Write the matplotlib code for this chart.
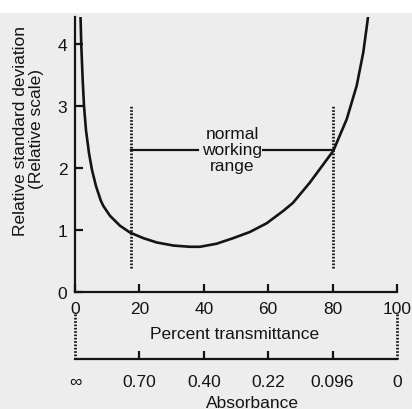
import matplotlib
matplotlib.use("Agg")
import matplotlib.pyplot as plt
from matplotlib.patches import Rectangle

plt.rcParams["font.family"] = ["Liberation Sans", "DejaVu Sans"]

# Relative standard deviation of concentration vs. percent transmittance
transmittance = [1.68, 1.77, 1.96, 2.39, 2.80, 3.42, 4.35, 5.28, 6.52, 7.98, 8.79,
                 10.87, 13.98, 17.08, 21.21, 25.37, 30.53, 35.71, 38.82, 44.0,
                 49.16, 54.35, 59.53, 64.69, 67.70, 72.98, 80.22, 84.38, 87.48,
                 89.53, 90.78, 91.09]
rel_std_dev = [4.50, 4.34, 3.97, 3.42, 3.00, 2.61, 2.24, 1.97, 1.71, 1.48, 1.39,
               1.23, 1.07, 0.96, 0.87, 0.80, 0.75, 0.73, 0.73, 0.78,
               0.87, 0.97, 1.11, 1.31, 1.44, 1.77, 2.28, 2.79, 3.33,
               3.87, 4.35, 4.48]

# Normal working range (percent transmittance) and its marker level
range_low, range_high = 17.5, 80.0
range_level = 2.3
range_bar_bottom, range_bar_top = 0.38, 3.0
range_gap = (38.3, 58.4)
range_label = "normal\nworking\nrange"
range_label_x = 48.8

x_ticks = [0, 20, 40, 60, 80, 100]
y_ticks = [0, 1, 2, 3, 4]
absorbance_labels = ["\u221e", "0.70", "0.40", "0.22", "0.096", "0"]

ink = "#141414"
paper = "#ededed"
dotted = (0, (0.6, 0.6))
W, H = 412, 410
fs = 12.5

fig = plt.figure(figsize=(W / 100, H / 100), dpi=100, facecolor=paper)
fig.patches.append(Rectangle((0, 1 - 14 / H), 1, 14 / H, transform=fig.transFigure,
                             facecolor="white", edgecolor="none", zorder=0))

# Main axes: percent transmittance vs. relative standard deviation
ax = fig.add_axes([75 / W, 117 / H, 322 / W, 275 / H])
ax.set_facecolor("none")
ax.set_xlim(0, 100)
ax.set_ylim(0, 4.44)
for side in ("top", "right"):
    ax.spines[side].set_visible(False)
for side in ("left", "bottom"):
    ax.spines[side].set_linewidth(1.6)
    ax.spines[side].set_color(ink)
ax.set_xticks(x_ticks)
ax.set_yticks(y_ticks)
ax.tick_params(axis="both", direction="in", length=5.8, width=1.6, color=ink,
               labelsize=fs, labelcolor=ink)
ax.tick_params(axis="x", pad=6.5)
ax.tick_params(axis="y", pad=5.5)

ax.plot(transmittance, rel_std_dev, color=ink, lw=1.9)

ax.plot([range_low, range_low], [range_bar_bottom, range_bar_top],
        color=ink, lw=2.0, ls=dotted)
ax.plot([range_high, range_high], [range_bar_bottom, range_bar_top],
        color=ink, lw=2.0, ls=dotted)
ax.plot([range_low, range_gap[0]], [range_level, range_level], color=ink, lw=1.6)
ax.plot([range_gap[1], range_high], [range_level, range_level], color=ink, lw=1.6)
ax.text(range_label_x, range_level, range_label, ha="center", va="center",
        fontsize=fs, linespacing=1.12, color=ink)

# Secondary scale: absorbance
ax2 = fig.add_axes([75 / W, 50 / H, 322 / W, 47 / H])
ax2.set_facecolor("none")
ax2.set_xlim(0, 100)
ax2.set_ylim(0, 1)
for side in ("top", "right", "left"):
    ax2.spines[side].set_visible(False)
ax2.spines["bottom"].set_linewidth(1.6)
ax2.spines["bottom"].set_color(ink)
ax2.set_yticks([])
ax2.set_xticks(x_ticks, absorbance_labels)
ax2.tick_params(axis="x", direction="in", length=5.8, width=1.6, color=ink,
                labelsize=fs, labelcolor=ink, pad=11)
major = ax2.xaxis.get_major_ticks()
major[0].tick1line.set_visible(False)
major[-1].tick1line.set_visible(False)
ax2.plot([0, 0], [0, 1], color=ink, lw=2.0, ls=dotted, clip_on=False)
ax2.plot([100, 100], [0, 1], color=ink, lw=2.0, ls=dotted, clip_on=False)

fig.text(235 / W, (H - 339.5) / H, "Percent transmittance", ha="center",
         va="baseline", fontsize=fs, color=ink)
fig.text(252 / W, (H - 408.5) / H, "Absorbance", ha="center", va="baseline",
         fontsize=fs, color=ink)
fig.text(20.7 / W, (H - 131) / H, "Relative standard deviation", rotation=90,
         ha="center", va="center", fontsize=fs, color=ink)
fig.text(37 / W, (H - 129) / H, "(Relative scale)", rotation=90,
         ha="center", va="center", fontsize=fs, color=ink)

fig.savefig("out.png", dpi=100, facecolor=paper)
